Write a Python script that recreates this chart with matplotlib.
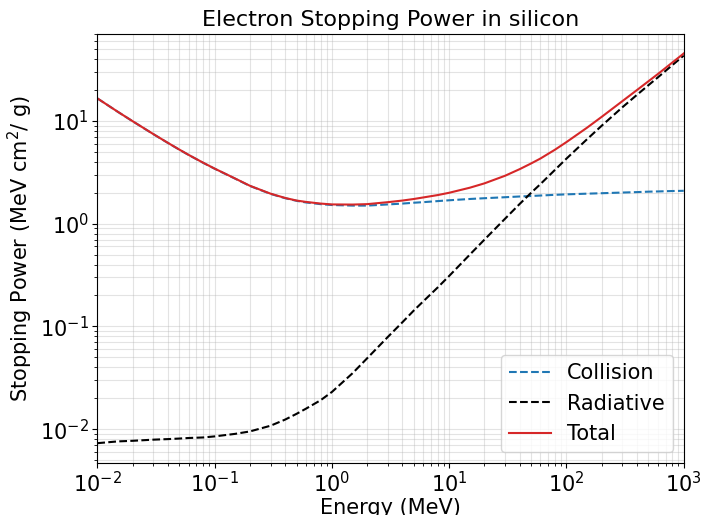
import matplotlib
matplotlib.use("Agg")
import matplotlib.pyplot as plt

# Energy grid (MeV)
energy = [0.01, 0.015, 0.02, 0.03, 0.04, 0.05, 0.06, 0.08, 0.1, 0.15, 0.2, 0.3,
          0.4, 0.5, 0.6, 0.8, 1, 1.5, 2, 3, 4, 5, 6, 8, 10, 15, 20, 30, 40, 50,
          60, 80, 100, 150, 200, 300, 400, 500, 600, 800, 1000]

# Collision stopping power (MeV cm2/g)
collision = [16.6, 12.25, 9.94, 7.45, 6.11, 5.26, 4.67, 3.91, 3.43, 2.74, 2.33, 1.95,
             1.77, 1.67, 1.61, 1.55, 1.52, 1.50, 1.50, 1.54, 1.57, 1.60, 1.62, 1.66, 1.69, 1.74, 1.77, 1.81, 1.84, 1.86,
             1.88, 1.91, 1.93, 1.96, 1.98, 2.01, 2.03, 2.05, 2.06, 2.08, 2.09]

# Radiative stopping power (MeV cm2/g)
radiative = [0.0073, 0.0076, 0.0077, 0.0079, 0.0080, 0.0081, 0.0082, 0.0083, 0.0085, 0.0090, 0.0095, 0.0108,
             0.0124, 0.0141, 0.0158, 0.0191, 0.0230, 0.0350, 0.049, 0.079, 0.110, 0.143, 0.175, 0.24, 0.31, 0.50, 0.70, 1.12, 1.56, 2.0,
             2.43, 3.35, 4.30, 6.65, 9.0, 13.6, 18.0, 22.3, 26.5, 35.0, 43.3]

# Total stopping power (MeV cm2/g)
total = [16.61, 12.26, 9.95, 7.46, 6.12, 5.27, 4.68, 3.92, 3.44, 2.75, 2.34, 1.96,
         1.78, 1.68, 1.63, 1.57, 1.54, 1.535, 1.55, 1.62, 1.68, 1.74, 1.80, 1.90, 2.00, 2.24, 2.47, 2.93, 3.40, 3.86,
         4.31, 5.26, 6.23, 8.61, 10.98, 15.61, 20.03, 24.35, 28.56, 37.08, 45.39]

fig = plt.figure(figsize=(7.02, 5.15), dpi=100)
ax = fig.add_axes([0.1386, 0.1016, 0.974 - 0.1386, 0.934 - 0.1016])

ax.loglog(energy, collision, linestyle="--", color="tab:blue", lw=1.5, label="Collision")
ax.loglog(energy, radiative, linestyle="--", color="black", lw=1.5, label="Radiative")
ax.loglog(energy, total, linestyle="-", color="tab:red", lw=1.5, label="Total")

ax.set_xlim(1e-2, 1e3)
ax.grid(True, which="both", alpha=0.35)
ax.set_title("Electron Stopping Power in silicon", fontsize=16)
ax.set_xlabel("Energy (MeV)", fontsize=15, labelpad=1)
ax.set_ylabel("Stopping Power (MeV cm$^2$/ g)", fontsize=15)
ax.tick_params(axis="both", which="major", labelsize=15, pad=2.5)
ax.legend(loc="lower right", fontsize=15)

fig.savefig("out.png", dpi=100)
